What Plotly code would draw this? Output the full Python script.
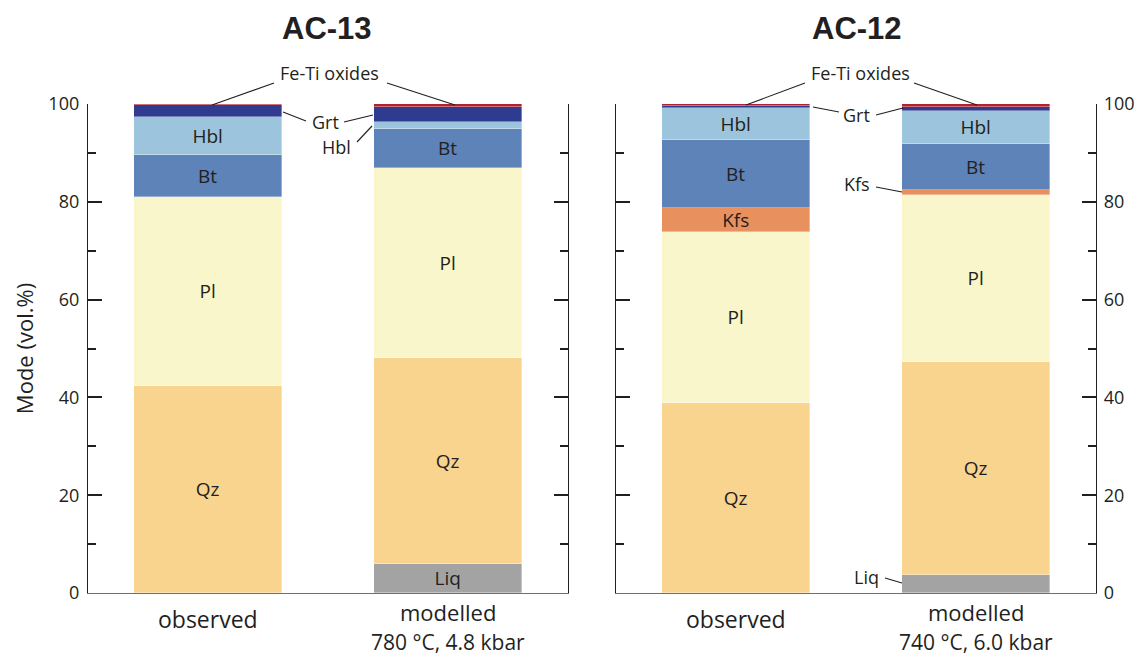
import plotly.graph_objects as go

# Modal mineralogy (vol.%) – segments stacked bottom to top
minerals = ["Liq", "Qz", "Pl", "Kfs", "Bt", "Hbl", "Grt", "Fe-Ti oxides"]
colors = ["#a3a3a3", "#f8d48f", "#faf6cb", "#e8915f", "#5d83b9", "#9cc4dd", "#2e3b8f", "#b3202e"]

categories = [0, 1]
category_names = ["observed", "modelled"]

ac13_observed = [0.0, 42.3, 38.7, 0.0, 8.5, 7.8, 2.4, 0.3]
ac13_modelled = [5.9, 42.1, 38.9, 0.0, 8.0, 1.5, 2.9, 0.7]
ac12_observed = [0.0, 38.9, 34.9, 4.9, 13.9, 6.6, 0.4, 0.4]
ac12_modelled = [3.7, 43.5, 34.1, 1.1, 9.4, 6.8, 0.8, 0.6]

ac13_conditions = "780 °C, 4.8 kbar"
ac12_conditions = "740 °C, 6.0 kbar"

W, H = 1136, 656
TXT = "#231f20"
FONT = "Open Sans"


def px(x):
    return x / W


def py(y):
    return 1 - y / H


def inside_label(name, value):
    # only segments thick enough carry their name inside the bar
    return name if value >= 4 else ""


fig = go.Figure()

for i, m in enumerate(minerals):
    for xa, ya, obs, mod in (("x", "y", ac13_observed, ac13_modelled),
                             ("x2", "y2", ac12_observed, ac12_modelled)):
        vals = [obs[i], mod[i]]
        fig.add_trace(go.Bar(
            x=categories, y=vals, xaxis=xa, yaxis=ya,
            width=0.62,
            marker=dict(color=colors[i], line=dict(color="rgba(255,255,255,0.6)", width=0.6)),
            text=[inside_label(m, v) for v in vals],
            textposition="inside", insidetextanchor="middle",
            textangle=0, constraintext="none",
            textfont=dict(family=FONT, size=19, color=TXT),
            showlegend=False, hoverinfo="skip",
        ))

y_dom = [py(593), py(104)]
axis_common = dict(
    range=[0, 100], domain=y_dom, showgrid=False, zeroline=False, automargin=False,
    showline=True, linecolor="#231f20", linewidth=1.3,
    ticks="inside", ticklen=14, tickwidth=1.6, tickcolor="#231f20",
    tickvals=[0, 20, 40, 60, 80, 100],
    minor=dict(ticks="inside", ticklen=8, tickwidth=1.6, tickcolor="#231f20", dtick=10),
    mirror="ticks",
    tickfont=dict(family=FONT, size=18, color=TXT),
)
xaxis_common = dict(
    range=[-0.5, 1.5], showgrid=False, zeroline=False, showline=True, automargin=False,
    linecolor="#6d6e71", linewidth=1.3, ticks="", showticklabels=False,
)

fig.update_layout(
    width=W, height=H, margin=dict(l=0, r=0, t=0, b=0, autoexpand=False),
    paper_bgcolor="white", plot_bgcolor="white",
    barmode="stack", bargap=0,
    xaxis=dict(domain=[px(88), px(568)], anchor="y", **xaxis_common),
    xaxis2=dict(domain=[px(616), px(1096)], anchor="y2", **xaxis_common),
    yaxis=dict(anchor="x", side="left", ticklabelstandoff=4,
               title=dict(text="Mode (vol.%)", font=dict(family=FONT, size=22, color=TXT), standoff=8),
               **axis_common),
    yaxis2=dict(anchor="x2", side="right", ticklabelstandoff=3, **axis_common),
)

annotations = []


def label(text, x, y, size, xref="paper", family=FONT):
    return dict(x=x, y=y, xref=xref, yref="paper", text=text, showarrow=False,
                xanchor="center", yanchor="middle",
                font=dict(family=family, size=size, color=TXT))


# panel titles
for xpos, title in ((327, "AC-13"), (857, "AC-12")):
    annotations.append(label(f"<b>{title}</b>", px(xpos), py(28), 31, family="Liberation Sans"))

# category names under each bar
for xa, cond in (("x", ac13_conditions), ("x2", ac12_conditions)):
    annotations.append(label(category_names[0], 0, py(619), 23, xref=xa))
    annotations.append(label(category_names[1], 1, py(612), 22, xref=xa))
    annotations.append(label(cond, 1, py(642), 21, xref=xa))

# labels for thin segments, placed beside the bars
outside_labels = [
    ("Fe-Ti oxides", 329, 73), ("Grt", 325, 122), ("Hbl", 336, 147),
    ("Fe-Ti oxides", 860, 73), ("Grt", 856, 115), ("Kfs", 857, 184), ("Liq", 866, 577),
]
for text, xp, yp in outside_labels:
    annotations.append(label(text, px(xp), py(yp), 18))

fig.update_layout(annotations=annotations)

# leader lines from the side labels to their segments
leaders = [
    (212, 105, 274, 83), (387, 83, 455, 105),
    (283, 112, 306, 121), (344, 122, 373, 115),
    (357, 142, 372, 126),
    (746, 105, 805, 83), (914, 83, 977, 105),
    (813, 107, 839, 112), (876, 115, 903, 108),
    (876, 187, 902, 192),
    (885, 578, 902, 583),
]
for x0, y0, x1, y1 in leaders:
    fig.add_shape(type="line", xref="paper", yref="paper",
                  x0=px(x0), y0=py(y0), x1=px(x1), y1=py(y1),
                  line=dict(color=TXT, width=1.1))

fig.write_html("out.html")
